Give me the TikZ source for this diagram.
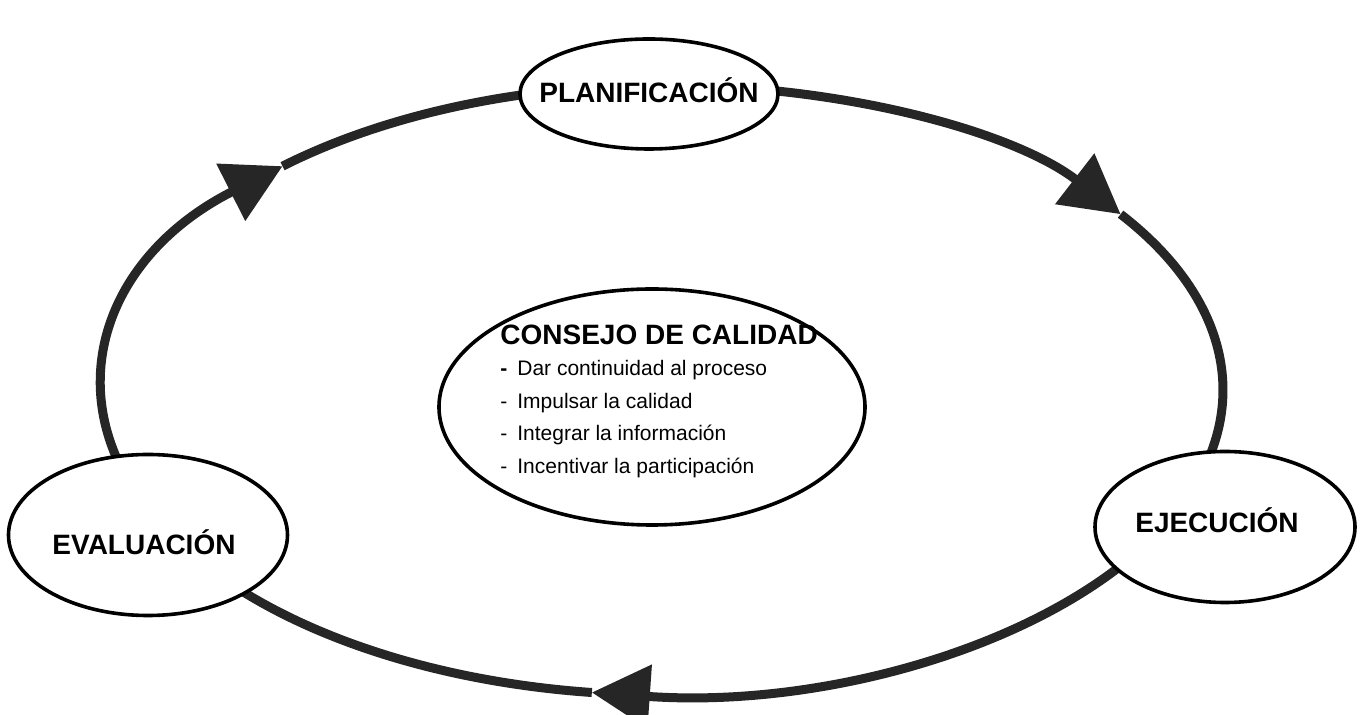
\documentclass[tikz,border=0pt]{standalone}
\usepackage{fontspec}
\setmainfont{Liberation Sans}
\usepackage{tikz}
\usetikzlibrary{arrows.meta, shapes.geometric}
\definecolor{ringgray}{RGB}{38,38,38}
\tikzstyle{elip}=[draw=black, fill=white, shape=ellipse, line width=1.8pt, inner sep=0pt]
\tikzstyle{lbl}=[inner sep=0pt, font=\fontsize{14}{16}\selectfont\bfseries]
\tikzstyle{ring}=[draw=ringgray, line width=4.5pt]
\tikzstyle{arr}=[-{Triangle[length=29pt, width=31pt]}]
\newcommand{\bul}{-\hspace{5pt}}
\tikzset{>=stealth}

\begin{document}
\begin{tikzpicture}[x=0.5pt, y=0.5pt]
\useasboundingbox (-663,-325) rectangle (701,390);

% points on the big ring
\coordinate (R1) at (91.4:560 and 305);
\coordinate (R2) at (35.2:560 and 305);
\coordinate (R3) at (-25:560 and 305);
\coordinate (R4) at (-97.3:560 and 305);
\coordinate (R5) at (208:560 and 305);
\coordinate (R6) at (132.8:560 and 305);

\draw[ring, arr] (R1) arc[start angle=91.4, end angle=35.2, x radius=560, y radius=305];
\draw[ring] (R2) arc[start angle=35.2, end angle=-25, x radius=560, y radius=305];
\draw[ring, arr] (R3) arc[start angle=-25, end angle=-97.3, x radius=560, y radius=305];
\draw[ring] (R4) arc[start angle=-97.3, end angle=-152, x radius=560, y radius=305];
\draw[ring, arr] (R5) arc[start angle=208, end angle=132.8, x radius=560, y radius=305];
\draw[ring] (R6) arc[start angle=132.8, end angle=91.4, x radius=560, y radius=305];

\node[elip, minimum width=129pt, minimum height=55pt, label={[lbl, name=Pl-t, yshift=2pt]center:PLANIFICACIÓN}] (Pl) at (-14,296) {};
\node[elip, minimum width=130pt, minimum height=75.5pt, label={[lbl, name=Ej-t, xshift=-4pt, yshift=3.5pt]center:EJECUCIÓN}] (Ej) at (562,-137) {};
\node[elip, minimum width=139.5pt, minimum height=80.5pt, label={[lbl, name=Ev-t, xshift=-2pt, yshift=-3.5pt]center:EVALUACIÓN}] (Ev) at (-515,-145) {};
\node[elip, minimum width=213pt, minimum height=118pt] (Co) at (-11,-17) {};
\node[anchor=north west, inner sep=0pt, align=left, font=\fontsize{10.5}{16.3}\selectfont] (Co-t) at (-163,65)
  {{\fontsize{14}{16}\selectfont\bfseries CONSEJO DE CALIDAD}\\[-1pt]
   {\bfseries\bul}Dar continuidad al proceso\\
   \bul Impulsar la calidad\\
   \bul Integrar la información\\
   \bul Incentivar la participación};
\end{tikzpicture}
\end{document}
